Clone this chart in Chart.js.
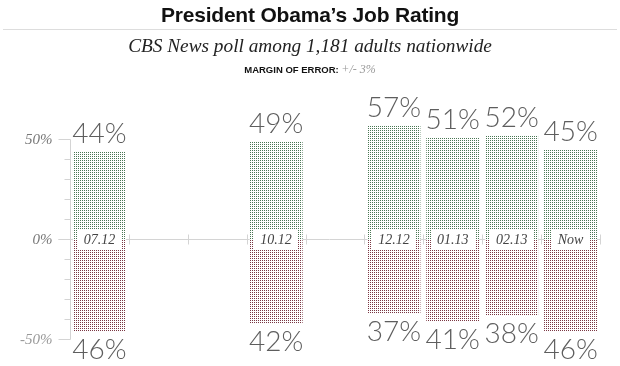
<!DOCTYPE html>
<html>
<head>
<meta charset="utf-8">
<script src="https://cdn.jsdelivr.net/npm/chart.js@4.4.1/dist/chart.umd.min.js"></script>
<style>
  html,body{margin:0;padding:0;background:#fff;}
  #wrap{position:relative;width:620px;height:366px;overflow:hidden;}
  #c{position:absolute;left:0;top:0;}
  .t{position:absolute;left:0;width:620px;text-align:center;white-space:nowrap;}
  #title{top:3px;line-height:24px;font:bold 21px "Liberation Sans",Arial,sans-serif;color:#111;letter-spacing:-0.2px;}
  #rule{position:absolute;left:3px;width:614px;top:29px;height:1px;background:#ddd;}
  #sub{top:35px;line-height:22px;font:italic 19.3px "Liberation Serif","DejaVu Serif",serif;color:#222;}
  #moe{top:62px;line-height:12px;font:bold 9.5px "Liberation Sans",Arial,sans-serif;color:#111;}
  #moe span{font:italic 12px "Liberation Serif",serif;color:#999;}
</style>
</head>
<body>
<div id="wrap">
  <canvas id="c" width="620" height="366"></canvas>
  <div class="t" id="title">President Obama’s Job Rating</div>
  <div id="rule"></div>
  <div class="t" id="sub">CBS News poll among 1,181 adults nationwide</div>
  <div class="t" id="moe">MARGIN OF ERROR: <span>+/- 3%</span></div>
</div>
<script>
// Months on the time axis (Jul 2012 .. Mar 2013); poll labels shown only where a poll exists
const months = ["Jul","Aug","Sep","Oct","Nov","Dec","Jan","Feb","Mar"];
const pollLabels = ["07.12", null, null, "10.12", null, "12.12", "01.13", "02.13", "Now"];
const approve    = [44, null, null, 49, null, 57, 51, 52, 45];
const disapprove = [46, null, null, 42, null, 37, 41, 38, 46];
const yTickValues = [50, 0, -50];
const yTickLabels = ["50%", "0%", "-50%"];

function dotPattern(color){
  const p = document.createElement('canvas');
  p.width = 2; p.height = 2;
  const g = p.getContext('2d');
  g.fillStyle = '#fff'; g.fillRect(0,0,2,2);
  g.fillStyle = color; g.fillRect(0,0,1,1);
  return g.createPattern(p,'repeat');
}
const ctx0 = document.getElementById('c').getContext('2d');
const greenPat = dotPattern('#4a7654');
const redPat = dotPattern('#7a3743');

const axisPlugin = {
  id:'axisPlugin',
  beforeDatasetsDraw(chart){
    const {ctx, scales:{x,y}} = chart;
    ctx.save();
    ctx.strokeStyle = '#d4d4d4';
    ctx.lineWidth = 1;
    const ax = Math.round(chart.chartArea.left) + 0.5;
    const y50 = Math.round(y.getPixelForValue(50)) + 0.5;
    const yn50 = Math.round(y.getPixelForValue(-50)) + 0.5;
    const y0 = Math.round(y.getPixelForValue(0)) + 0.5;
    ctx.beginPath(); ctx.moveTo(ax, y50); ctx.lineTo(ax, yn50); ctx.stroke();
    for(let v=-50; v<=50; v+=10){
      const py = Math.round(y.getPixelForValue(v)) + 0.5;
      const major = (v % 50 === 0);
      ctx.beginPath(); ctx.moveTo(ax - (major?12:6), py); ctx.lineTo(ax, py); ctx.stroke();
    }
    const right = Math.round(chart.chartArea.right) + 0.5;
    ctx.beginPath(); ctx.moveTo(ax - 12, y0); ctx.lineTo(right, y0); ctx.stroke();
    const step = x.getPixelForValue(1) - x.getPixelForValue(0);
    for(let i=0;i<=months.length;i++){
      const px = Math.round(x.getPixelForValue(0) - step/2 + i*step) + 0.5;
      ctx.beginPath(); ctx.moveTo(px, y0-5); ctx.lineTo(px, y0+5); ctx.stroke();
    }
    ctx.font = 'italic 15px "Liberation Serif", serif';
    ctx.textAlign = 'right';
    ctx.textBaseline = 'middle';
    yTickValues.forEach((v,i)=>{
      ctx.fillStyle = v < 0 ? '#999' : '#777';
      ctx.fillText(yTickLabels[i], ax - 18, y.getPixelForValue(v) + 1);
    });
    ctx.restore();
  },
  afterDatasetsDraw(chart){
    const {ctx, scales:{y}} = chart;
    const metaA = chart.getDatasetMeta(0);
    const metaD = chart.getDatasetMeta(1);
    const y0 = y.getPixelForValue(0);
    ctx.save();
    approve.forEach((v,i)=>{
      if(v == null) return;
      const ba = metaA.data[i], bd = metaD.data[i];
      ctx.font = '300 28px Lato, Roboto, "Liberation Sans", sans-serif';
      ctx.fillStyle = '#5e5e5e';
      ctx.textAlign = 'center';
      ctx.textBaseline = 'alphabetic';
      ctx.fillText(v + '%', ba.x, ba.y - 8);
      ctx.textBaseline = 'top';
      ctx.fillText(disapprove[i] + '%', bd.x, bd.y + 5);
      ctx.font = 'italic 14px "Liberation Serif", serif';
      const w = ctx.measureText(pollLabels[i]).width + 12;
      ctx.fillStyle = '#fff';
      ctx.fillRect(Math.round(ba.x - w/2), Math.round(y0 - 10), Math.round(w), 20);
      ctx.fillStyle = '#444';
      ctx.textBaseline = 'middle';
      ctx.fillText(pollLabels[i], ba.x, y0 + 1);
    });
    ctx.restore();
  }
};

new Chart(ctx0, {
  type:'bar',
  data:{
    labels: months,
    datasets:[
      {label:'Approve', data: approve, backgroundColor: greenPat, borderWidth:0, clip:false,
       barPercentage:0.9, categoryPercentage:1.0},
      {label:'Disapprove', data: disapprove.map(v => v == null ? null : -v), backgroundColor: redPat, borderWidth:0, clip:false,
       barPercentage:0.9, categoryPercentage:1.0}
    ]
  },
  options:{
    responsive:false,
    animation:false,
    layout:{padding:{left:70, right:20, top:139, bottom:27}},
    plugins:{legend:{display:false}, tooltip:{enabled:false}, title:{display:false}},
    scales:{
      x:{type:'category', stacked:true, offset:true, display:false},
      y:{type:'linear', stacked:true, min:-50, max:50, display:false}
    }
  },
  plugins:[axisPlugin]
});
</script>
</body>
</html>
